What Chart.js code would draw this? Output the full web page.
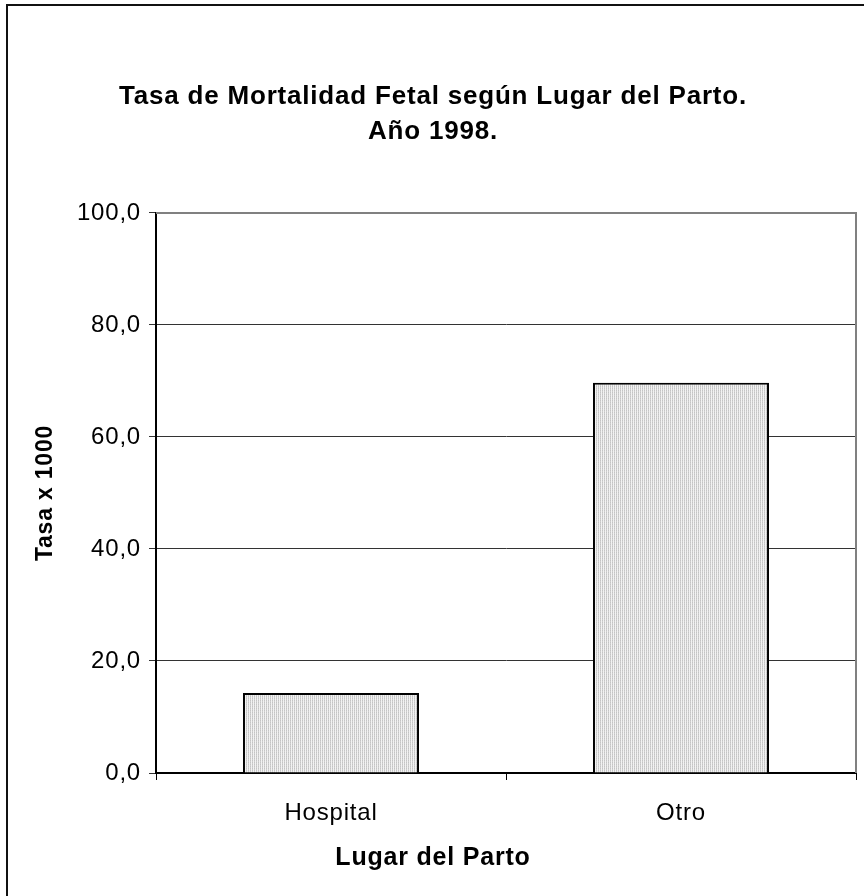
<!DOCTYPE html>
<html lang="es">
<head>
<meta charset="utf-8">
<title>Tasa de Mortalidad Fetal</title>
<script src="https://cdn.jsdelivr.net/npm/chart.js@4"></script>
<style>
    html, body { margin: 0; padding: 0; background: #fff; }
    #wrap { position: relative; width: 864px; height: 896px; overflow: hidden; }
    #frame { position: absolute; left: 6px; top: 4px; width: 900px; height: 940px; border: 2px solid #111; box-sizing: border-box; }
    #chart { position: absolute; left: 0; top: 0; }
</style>
</head>
<body>
<div id="wrap">
    <div id="frame"></div>
    <canvas id="chart" width="864" height="896"></canvas>
</div>
<script>
// --- datos ---
const categorias = ['Hospital', 'Otro'];
const tasas = [14.3, 69.7];
const tituloLineas = ['Tasa de Mortalidad Fetal según Lugar del Parto.', 'Año 1998.'];
const tituloX = 'Lugar del Parto';
const tituloY = 'Tasa x 1000';

const FONT = 'Arial, "Liberation Sans", sans-serif';
const SPACING = '0.8px';

// trama gris de rayas verticales finas
const makePattern = () => {
    const c = document.createElement('canvas');
    c.width = 2; c.height = 2;
    const g = c.getContext('2d');
    g.fillStyle = '#f2f2f2';
    g.fillRect(0, 0, 2, 2);
    g.fillStyle = '#c4c4c4';
    g.fillRect(0, 0, 1, 1);
    g.fillStyle = '#d0d0d0';
    g.fillRect(0, 1, 1, 1);
    return g.createPattern(c, 'repeat');
};

// texto algo más espaciado, como en la hoja original
const letterSpacing = {
    id: 'letterSpacing',
    beforeLayout(chart) { chart.ctx.letterSpacing = SPACING; },
    beforeDraw(chart) { chart.ctx.letterSpacing = SPACING; }
};

// borde gris del área de trazado (arriba y derecha)
const plotBorder = {
    id: 'plotBorder',
    beforeDatasetsDraw(chart) {
        const { ctx, chartArea: a } = chart;
        ctx.save();
        ctx.strokeStyle = '#808080';
        ctx.lineWidth = 2;
        ctx.beginPath();
        ctx.moveTo(a.left, a.top);
        ctx.lineTo(a.right, a.top);
        ctx.lineTo(a.right, a.bottom);
        ctx.stroke();
        ctx.restore();
    }
};

// título del eje X centrado en el cuadro completo, no sobre el área de trazado
const xTitle = {
    id: 'xTitle',
    afterDraw(chart) {
        const { ctx, width } = chart;
        ctx.save();
        ctx.letterSpacing = SPACING;
        ctx.font = `bold 25px ${FONT}`;
        ctx.fillStyle = '#000';
        ctx.textAlign = 'center';
        ctx.textBaseline = 'middle';
        ctx.fillText(tituloX, 433, 858);
        ctx.restore();
    }
};

const ctx = document.getElementById('chart').getContext('2d');
ctx.letterSpacing = SPACING;

new Chart(ctx, {
    type: 'bar',
    data: {
        labels: categorias,
        datasets: [{
            data: tasas,
            backgroundColor: makePattern(),
            borderColor: '#000',
            borderWidth: 2,
            borderSkipped: 'bottom',
            barPercentage: 0.503,
            categoryPercentage: 1
        }]
    },
    options: {
        responsive: false,
        animation: false,
        layout: { padding: { left: 10, right: 8, top: 0, bottom: 25 } },
        plugins: {
            legend: { display: false },
            tooltip: { enabled: false },
            title: {
                display: true,
                text: tituloLineas,
                color: '#000',
                font: { family: FONT, size: 26, weight: 'bold', lineHeight: 1.346 },
                padding: { top: 79.5, bottom: 63.5 }
            }
        },
        scales: {
            x: {
                grid: {
                    drawOnChartArea: false,
                    drawTicks: true,
                    tickLength: 7,
                    color: '#000',
                    lineWidth: 1
                },
                border: { color: '#000', width: 2 },
                ticks: { color: '#000', font: { family: FONT, size: 24 }, padding: 19 },
                afterFit(scale) { scale.height = 98; }
            },
            y: {
                min: 0,
                max: 100,
                ticks: {
                    stepSize: 20,
                    color: '#000',
                    font: { family: FONT, size: 24 },
                    padding: 8,
                    callback: (v) => v.toFixed(1).replace('.', ',')
                },
                grid: { color: '#333', lineWidth: 1, tickLength: 7 },
                border: { color: '#000', width: 2 },
                title: {
                    display: true,
                    text: tituloY,
                    color: '#000',
                    font: { family: FONT, size: 23, weight: 'bold' },
                    padding: { top: 22, bottom: 14 }
                },
                afterFit(scale) { scale.width = 156 - 10; }
            }
        }
    },
    plugins: [letterSpacing, plotBorder, xTitle]
});
</script>
</body>
</html>
